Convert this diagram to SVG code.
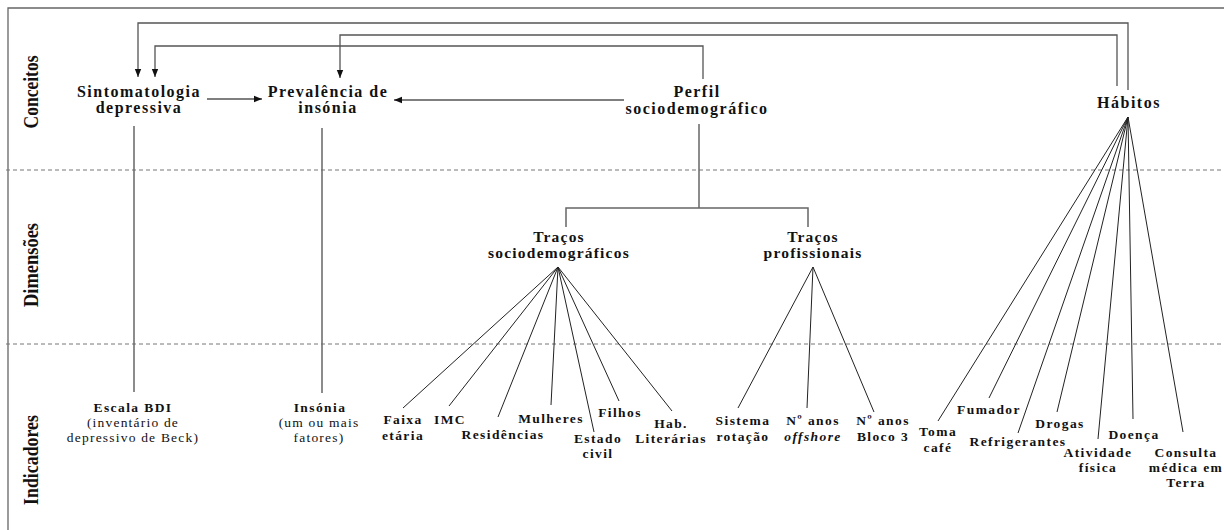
<svg xmlns="http://www.w3.org/2000/svg" width="1224" height="530" viewBox="0 0 1224 530">
<style>
text{font-family:"Liberation Serif","Times New Roman",serif;fill:#111;text-anchor:middle}
.n{font-weight:bold;font-size:16px;letter-spacing:1.5px}
.d{font-weight:bold;font-size:15.5px;letter-spacing:1.2px}
.i{font-weight:bold;font-size:13.5px;letter-spacing:1.4px}
.r{font-size:13.5px;letter-spacing:1.2px}
.sec{font-weight:bold;font-size:22px;letter-spacing:0}
.frame{stroke:#666;stroke-width:1.3;fill:none}
.dash{stroke:#777;stroke-width:1;stroke-dasharray:4 3;fill:none}
.c{stroke:#555;stroke-width:1.3;fill:none}
.v{stroke:#666;stroke-width:1.5;fill:none}
.f{stroke:#222;stroke-width:1;fill:none}
</style>
<defs>
<marker id="ah" viewBox="0 0 8 8" refX="8" refY="4" markerWidth="8" markerHeight="8" markerUnits="userSpaceOnUse" orient="auto">
<path d="M0,0.8 L8,4 L0,7.2 Z" fill="#111"/>
</marker>
</defs>
<rect width="1224" height="530" fill="#fff"/>
<g id="frame">
<polyline class="frame" points="8,530 8,8 1224,8"/>
<line class="dash" x1="6" y1="170" x2="1224" y2="170"/>
<line class="dash" x1="6" y1="344" x2="1224" y2="344"/>
<text class="sec" transform="translate(38,92) rotate(-90)" textLength="73" lengthAdjust="spacingAndGlyphs">Conceitos</text>
<text class="sec" transform="translate(38,265) rotate(-90)" textLength="84" lengthAdjust="spacingAndGlyphs">Dimensões</text>
<text class="sec" transform="translate(38,460) rotate(-90)" textLength="90" lengthAdjust="spacingAndGlyphs">Indicadores</text>
</g>
<g id="connectors">
<polyline class="c" points="1128,90 1128,23 138,23 138,77" marker-end="url(#ah)"/>
<polyline class="c" points="1117,86 1117,35 340,35 340,78" marker-end="url(#ah)"/>
<polyline class="c" points="703,79 703,46 155,46 155,77" marker-end="url(#ah)"/>
<line class="c" x1="207" y1="99" x2="262" y2="99" marker-end="url(#ah)"/>
<line class="c" x1="624" y1="100" x2="394" y2="100" marker-end="url(#ah)"/>
<line class="v" x1="134" y1="126" x2="134" y2="392"/>
<line class="v" x1="322" y1="128" x2="322" y2="393"/>
<polyline class="v" points="699,124 699,208"/>
<polyline class="v" points="566,227 566,208 808,208 808,227"/>
<g class="f">
<line x1="558" y1="267" x2="403" y2="408"/>
<line x1="558" y1="267" x2="449" y2="406"/>
<line x1="558" y1="267" x2="498" y2="417"/>
<line x1="558" y1="267" x2="551" y2="405"/>
<line x1="558" y1="267" x2="594" y2="432"/>
<line x1="558" y1="267" x2="619" y2="401"/>
<line x1="558" y1="267" x2="672" y2="411"/>
<line x1="813" y1="267" x2="738" y2="408"/>
<line x1="813" y1="267" x2="807" y2="408"/>
<line x1="813" y1="267" x2="874" y2="412"/>
<line x1="1128" y1="117" x2="938" y2="421"/>
<line x1="1128" y1="117" x2="989" y2="398"/>
<line x1="1128" y1="117" x2="1018" y2="433"/>
<line x1="1128" y1="117" x2="1057" y2="412"/>
<line x1="1128" y1="117" x2="1098" y2="439"/>
<line x1="1128" y1="117" x2="1133" y2="419"/>
<line x1="1128" y1="117" x2="1183" y2="432"/>
</g>
</g>
<g id="sintomatologia"><text class="n" x="139" y="97">Sintomatologia</text><text class="n" x="139" y="113">depressiva</text></g>
<g id="prevalencia"><text class="n" x="328" y="97">Prevalência de</text><text class="n" x="328" y="113">insónia</text></g>
<g id="perfil"><text class="n" x="697" y="97">Perfil</text><text class="n" x="697" y="114">sociodemográfico</text></g>
<g id="habitos"><text class="n" x="1129" y="108">Hábitos</text></g>
<g id="tracos-socio"><text class="d" x="559" y="242">Traços</text><text class="d" x="559" y="258">sociodemográficos</text></g>
<g id="tracos-prof"><text class="d" x="813" y="242">Traços</text><text class="d" x="813" y="258">profissionais</text></g>
<g id="escala-bdi"><text class="i" x="133" y="412">Escala BDI</text><text class="r" x="133" y="427">(inventário de</text><text class="r" x="133" y="442">depressivo de Beck)</text></g>
<g id="insonia"><text class="i" x="320" y="412">Insónia</text><text class="r" x="319" y="427">(um ou mais</text><text class="r" x="319" y="442">fatores)</text></g>
<g id="faixa"><text class="i" x="403" y="424">Faixa</text><text class="i" x="403" y="440">etária</text></g>
<g id="imc"><text class="i" x="450" y="424">IMC</text></g>
<g id="residencias"><text class="i" x="503" y="439">Residências</text></g>
<g id="mulheres"><text class="i" x="551" y="423">Mulheres</text></g>
<g id="estado"><text class="i" x="598" y="443">Estado</text><text class="i" x="598" y="458">civil</text></g>
<g id="filhos"><text class="i" x="620" y="417">Filhos</text></g>
<g id="hab"><text class="i" x="671" y="428">Hab.</text><text class="i" x="671" y="443">Literárias</text></g>
<g id="sistema"><text class="i" x="743" y="425">Sistema</text><text class="i" x="743" y="441">rotação</text></g>
<g id="anos-offshore"><text class="i" x="813" y="425">Nº anos</text><text class="i" x="813" y="441" font-style="italic">offshore</text></g>
<g id="anos-bloco"><text class="i" x="883" y="425">Nº anos</text><text class="i" x="883" y="441">Bloco 3</text></g>
<g id="toma-cafe"><text class="i" x="938" y="436">Toma</text><text class="i" x="938" y="452">café</text></g>
<g id="fumador"><text class="i" x="989" y="414">Fumador</text></g>
<g id="refrigerantes"><text class="i" x="1018" y="446">Refrigerantes</text></g>
<g id="drogas"><text class="i" x="1060" y="428">Drogas</text></g>
<g id="doenca"><text class="i" x="1134" y="439">Doença</text></g>
<g id="atividade"><text class="i" x="1098" y="457">Atividade</text><text class="i" x="1098" y="472">física</text></g>
<g id="consulta"><text class="i" x="1186" y="457">Consulta</text><text class="i" x="1186" y="472">médica em</text><text class="i" x="1186" y="487">Terra</text></g>
</svg>
